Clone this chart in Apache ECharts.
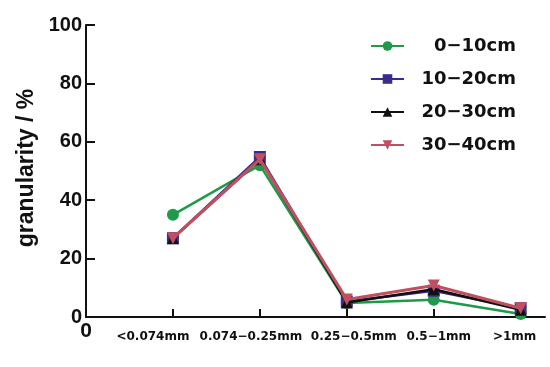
<!DOCTYPE html>
<html><head><meta charset="utf-8">
<script src="https://cdn.jsdelivr.net/npm/echarts@6/dist/echarts.min.js"></script>
<style>html,body{margin:0;padding:0;background:#fff}#c{width:550px;height:367px}</style>
</head><body><div id="c"></div>
<script>
const categories = ['<0.074mm', '0.074\u22120.25mm', '0.25\u22120.5mm', '0.5\u22121mm', '>1mm'];
const seriesNames = ['0\u221210cm', '10\u221220cm', '20\u221230cm', '30\u221240cm'];
const s0_10 = [35, 52, 4.8, 5.9, 1];
const s10_20 = [27, 54.8, 5.3, 9, 3];
const s20_30 = [27, 54, 5, 9.5, 2.5];
const s30_40 = [27, 54, 6, 10.8, 3];
const yTicks = [0, 20, 40, 60, 80, 100];

const colors = ['#1f9a48', '#3d2b8c', '#111111', '#c0505f'];
const symbols = ['circle', 'rect', 'triangle', 'path://M0,0 L10,0 L5,10 Z'];
const lineWidths = [2.5, 2.5, 2.5, 3.2];
const allData = [s0_10, s10_20, s20_30, s30_40];
const wide = "'DejaVu Sans', Verdana, sans-serif";
const arial = "'Liberation Sans', Arial, sans-serif";
// label nudges (px) so labels sit as in the reference
const labelShift = [-20, -9, 7, 5, -6];
const rich = {
  z: {fontSize: 21, fontWeight: 'bold', color: '#111', fontFamily: arial}
};
labelShift.forEach((d, i) => {
  rich['c' + i] = {
    fontSize: 12, fontWeight: 'bold', color: '#111', fontFamily: wide,
    padding: [10, d < 0 ? -2 * d : 0, 0, d > 0 ? 2 * d : 0]
  };
});

const chart = echarts.init(document.getElementById('c'));
chart.setOption({
  animation: false,
  textStyle: {fontFamily: arial},
  grid: {left: 86, right: 5, top: 25, bottom: 50},
  legend: {
    left: 365, top: 32, orient: 'vertical', itemGap: 15,
    itemWidth: 33, itemHeight: 12,
    textStyle: {fontSize: 18, fontWeight: 'bold', color: '#111', fontFamily: wide,
      rich: {a: {fontSize: 18, fontWeight: 'bold', color: '#111', fontFamily: wide, width: 107, align: 'right'}}},
    formatter: n => '{a|' + n + '}',
    data: seriesNames
  },
  xAxis: {
    type: 'value', min: 0, max: 5.28, interval: 1,
    axisLine: {lineStyle: {color: '#111', width: 2}},
    axisTick: {inside: true, length: 8, lineStyle: {color: '#111', width: 2}, customValues: [1, 2, 3, 4, 5]},
    splitLine: {show: false},
    axisLabel: {
      customValues: [0, 1, 2, 3, 4, 5],
      margin: 4,
      color: '#111',
      formatter: v => {
        if (v === 0) return '{z|0}';
        const i = Math.round(v) - 1;
        return '{c' + i + '|' + categories[i] + '}';
      },
      rich: rich
    }
  },
  yAxis: {
    type: 'value', min: 0, max: 100, interval: 20,
    name: 'granularity / %', nameLocation: 'middle', nameGap: 47,
    nameTextStyle: {fontSize: 23, fontWeight: 'bold', color: '#111', fontFamily: arial, padding: [0, 0, 0, 6]},
    axisLine: {show: true, lineStyle: {color: '#111', width: 2}},
    axisTick: {show: true, inside: true, length: 9, lineStyle: {color: '#111', width: 2}},
    splitLine: {show: false},
    axisLabel: {fontSize: 20, fontWeight: 'bold', color: '#111', margin: 4, fontFamily: arial}
  },
  series: allData.map((d, i) => ({
    name: seriesNames[i],
    type: 'line',
    data: d.map((v, j) => [j + 1, v]),
    symbol: symbols[i],
    symbolSize: 12,
    color: colors[i],
    lineStyle: {width: lineWidths[i], color: colors[i]},
    itemStyle: {color: colors[i]},
    z: 2 + i
  }))
});
</script></body></html>
